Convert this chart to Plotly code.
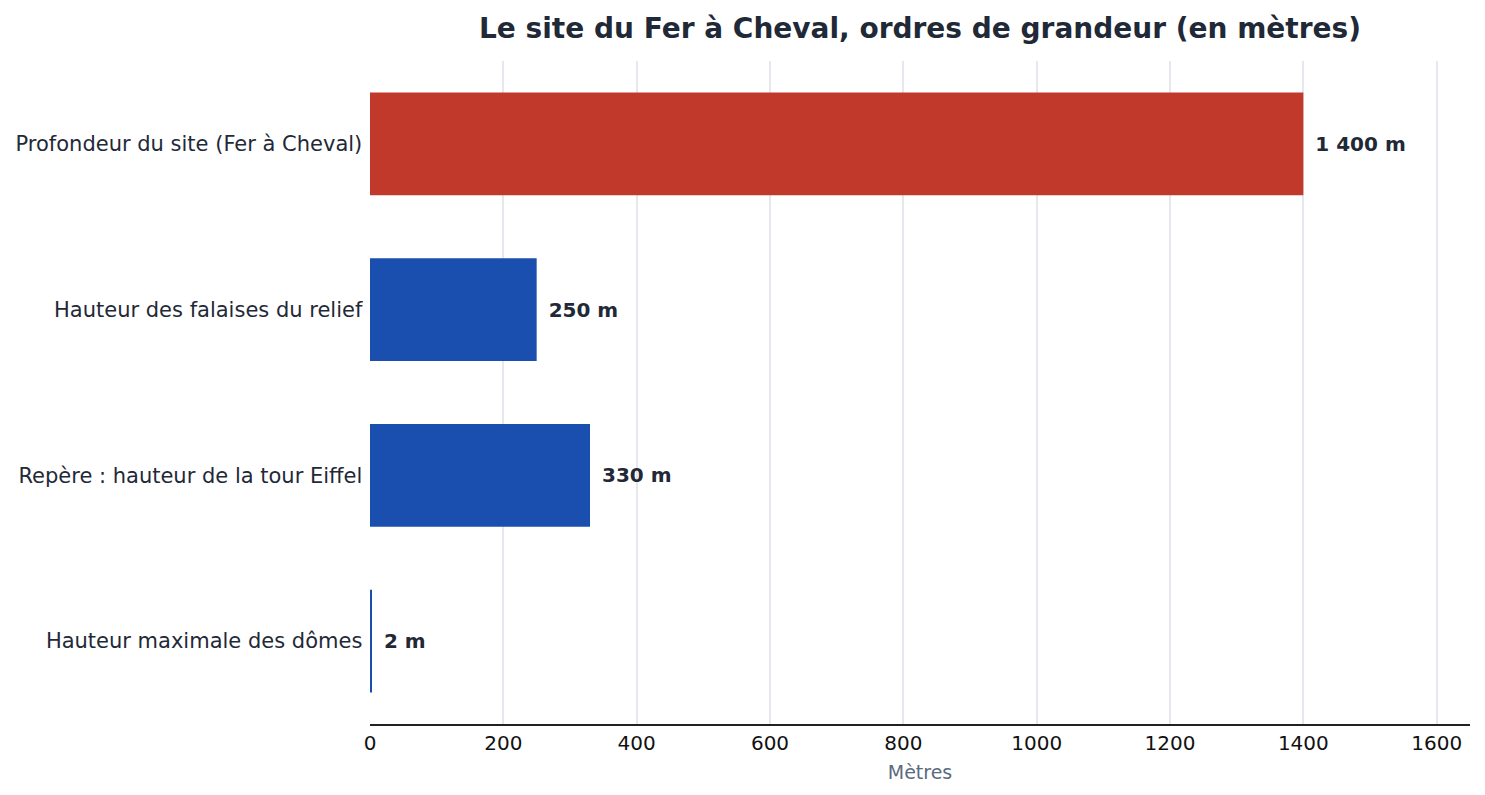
import plotly.graph_objects as go

categories = ['Profondeur du site (Fer à Cheval)', 'Hauteur des falaises du relief',
              'Repère : hauteur de la tour Eiffel', 'Hauteur maximale des dômes']
values = [1400, 250, 330, 2]
labels = ['1 400 m', '250 m', '330 m', '2 m']
barColors = ['#c0392b', '#1a4fb0', '#1a4fb0', '#1a4fb0']

fig = go.Figure()
fig.add_trace(go.Bar(
    x=values, y=categories, orientation='h',
    marker=dict(color=barColors, line=dict(width=0)),
    text=['\u00a0\u200a' + t for t in labels], textposition='outside', cliponaxis=False,
    textfont=dict(family='DejaVu Sans', size=20, color='#1f2937', weight='bold'),
))

fig.update_xaxes(range=[0, 1650], dtick=200, showgrid=True, gridcolor='#e5e8ec', gridwidth=1.5,
                 zeroline=False, showline=True, linecolor='#222222', linewidth=2,
                 automargin=False,
                 tickfont=dict(family='DejaVu Sans', size=20, color='#111111'),
                 title=dict(text='Mètres', standoff=12,
                            font=dict(family='DejaVu Sans', size=19, color='#5b6b7f')))
fig.update_yaxes(autorange='reversed', showline=False, ticks='', ticksuffix=' ',
                 automargin=False,
                 tickfont=dict(family='DejaVu Sans', size=21, color='#1f2937'))

# page body has an 8px margin, margins below account for it
fig.update_layout(
    width=1485, height=795,
    bargap=0.38,
    showlegend=False,
    plot_bgcolor='white', paper_bgcolor='white',
    margin=dict(l=362, r=23, t=53, b=79),
    title=dict(text='<b>Le site du Fer à Cheval, ordres de grandeur (en mètres)</b>',
               x=0.5, xref='paper', xanchor='center', y=0.975, yref='container', yanchor='middle',
               font=dict(family='DejaVu Sans', size=28, color='#1f2937')),
)

fig.write_html('out.html')
